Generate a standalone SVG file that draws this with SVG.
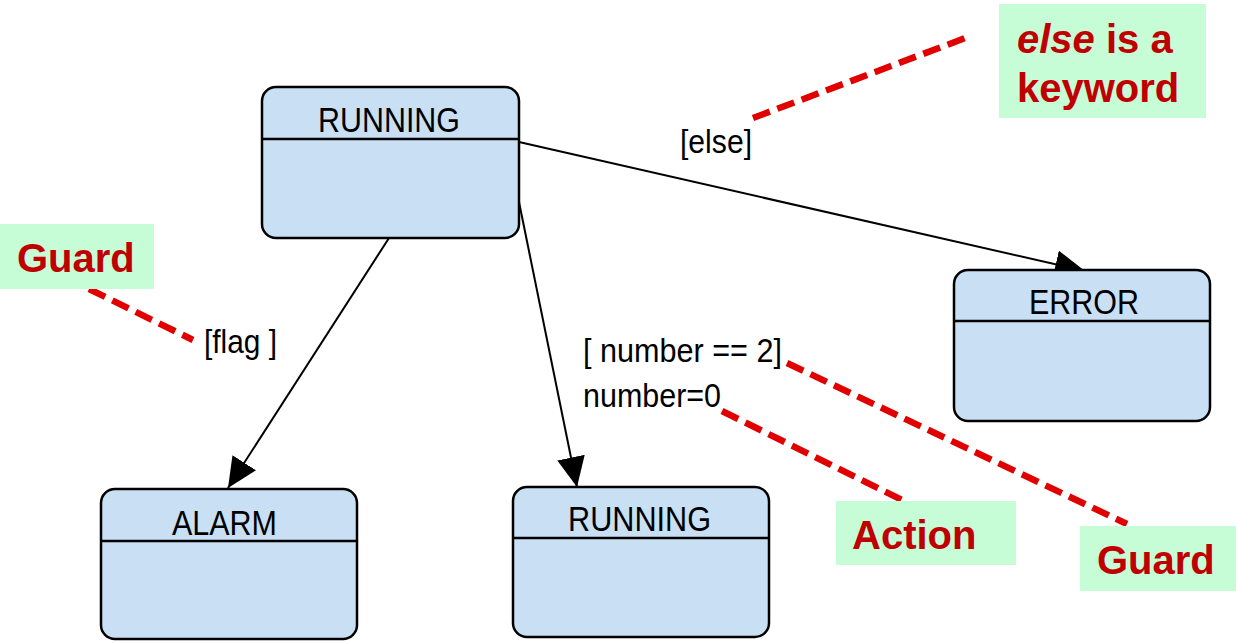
<svg xmlns="http://www.w3.org/2000/svg" width="1236" height="644" viewBox="0 0 1236 644">
<style>
.box{fill:#c9e0f4;stroke:#000;stroke-width:2.5}
.div{stroke:#000;stroke-width:2.5}
.ntxt{font-family:"Liberation Sans",Arial,sans-serif;font-size:35px;fill:#000}
.lbl{font-family:"Liberation Sans",Arial,sans-serif;font-size:33px;fill:#000}
.edge{stroke:#000;stroke-width:2;fill:none;marker-end:url(#arr)}
.note{fill:#c6fcd6}
.ntx{font-family:"Liberation Sans",Arial,sans-serif;font-size:40px;font-weight:bold;fill:#c00000}
.dash{stroke:#e00000;stroke-width:6.5;stroke-dasharray:18 8;fill:none}
</style>
<defs>
<marker id="arr" markerUnits="userSpaceOnUse" markerWidth="31" markerHeight="28" refX="30" refY="14" orient="auto">
<path d="M0,0 L30,14 L0,28 z" fill="#000"/>
</marker>
</defs>
<rect width="1236" height="644" fill="#fff"/>
<g id="connectors">
<line class="edge" x1="519" y1="142" x2="1085" y2="271"/>
<line class="edge" x1="389" y1="238" x2="228" y2="488"/>
<line class="edge" x1="519" y1="202" x2="577" y2="487"/>
<text class="lbl" x="680" y="153" textLength="72" lengthAdjust="spacingAndGlyphs">[else]</text>
<text class="lbl" x="204" y="353" textLength="73" lengthAdjust="spacingAndGlyphs">[flag ]</text>
<text class="lbl" x="583" y="362" textLength="199" lengthAdjust="spacingAndGlyphs">[ number == 2]</text>
<text class="lbl" x="583" y="407" textLength="138" lengthAdjust="spacingAndGlyphs">number=0</text>
</g>
<g id="running-top">
<rect class="box" x="262" y="87" width="257" height="151" rx="14"/>
<line class="div" x1="262" y1="139" x2="519" y2="139"/>
<text class="ntxt" x="318" y="132" textLength="142" lengthAdjust="spacingAndGlyphs">RUNNING</text>
</g>
<g id="error">
<rect class="box" x="954" y="270" width="256" height="151" rx="14"/>
<line class="div" x1="954" y1="321" x2="1210" y2="321"/>
<text class="ntxt" x="1029" y="314" textLength="110" lengthAdjust="spacingAndGlyphs">ERROR</text>
</g>
<g id="alarm">
<rect class="box" x="101" y="489" width="256" height="150" rx="14"/>
<line class="div" x1="101" y1="541" x2="357" y2="541"/>
<text class="ntxt" x="172" y="535" textLength="105" lengthAdjust="spacingAndGlyphs">ALARM</text>
</g>
<g id="running-bottom">
<rect class="box" x="513" y="487" width="256" height="150" rx="14"/>
<line class="div" x1="513" y1="538" x2="769" y2="538"/>
<text class="ntxt" x="568" y="531" textLength="143" lengthAdjust="spacingAndGlyphs">RUNNING</text>
</g>
<g id="note-else">
<line class="dash" x1="753" y1="118" x2="968" y2="37"/>
<rect class="note" x="999" y="4" width="207" height="114"/>
<text class="ntx" x="1017" y="53"><tspan font-style="italic">else</tspan> is a</text>
<text class="ntx" x="1017" y="102">keyword</text>
</g>
<g id="note-guard-left">
<line class="dash" x1="89" y1="289" x2="193" y2="340"/>
<rect class="note" x="0" y="224" width="154" height="65"/>
<text class="ntx" x="17" y="272">Guard</text>
</g>
<g id="note-action">
<line class="dash" x1="722" y1="411" x2="902" y2="500"/>
<rect class="note" x="836" y="501" width="180" height="64"/>
<text class="ntx" x="852" y="549">Action</text>
</g>
<g id="note-guard-right">
<line class="dash" x1="787" y1="363" x2="1127" y2="524"/>
<rect class="note" x="1080" y="526" width="156" height="65"/>
<text class="ntx" x="1097" y="574">Guard</text>
</g>
</svg>
